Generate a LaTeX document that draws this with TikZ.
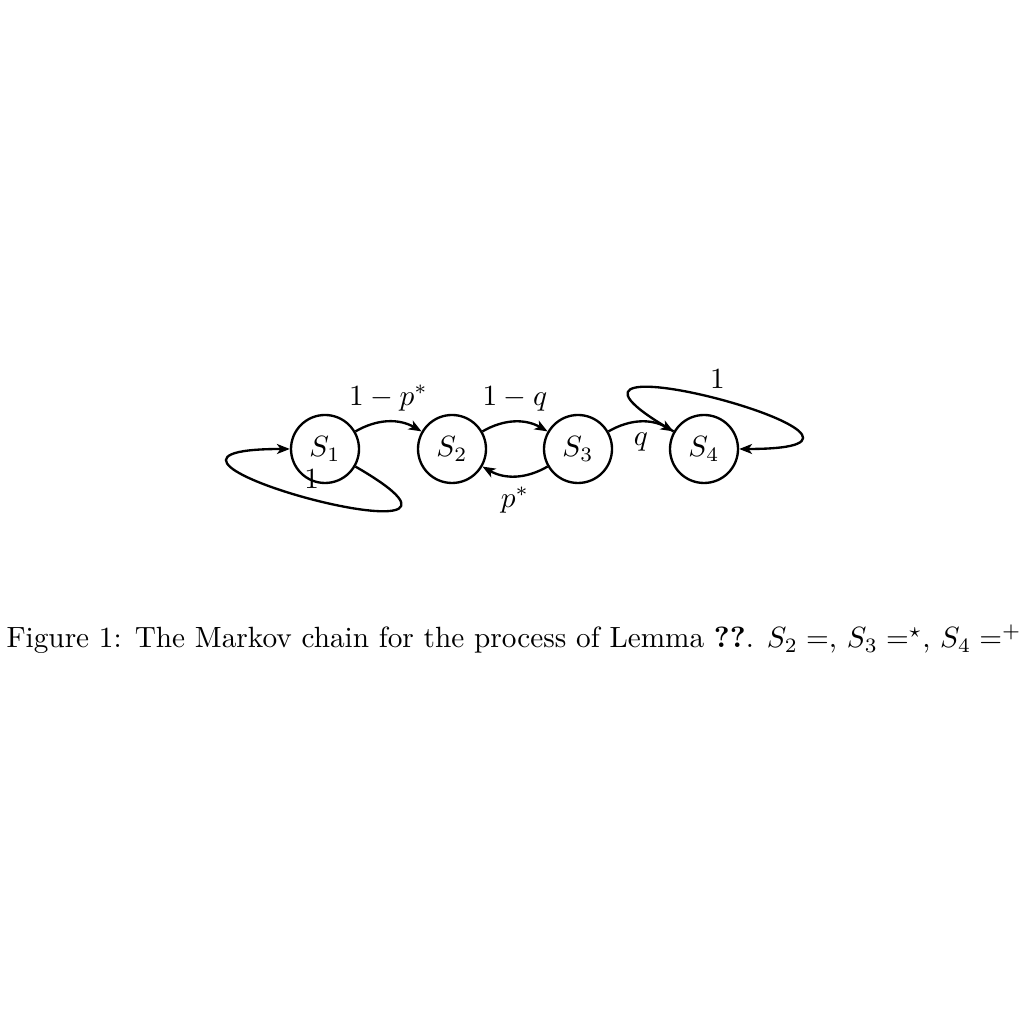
\documentclass[tikz,border=0pt]{standalone}
\usetikzlibrary{arrows.meta}
\newlength\capw
\newcommand\mycaptext{Figure 1: The Markov chain for the process of Lemma \textbf{??}. $S_2 =$, $S_3 =^{\star}$, $S_4 =^{+}$}
\begin{document}
\settowidth\capw{\mycaptext}%
\pgfmathsetlengthmacro\unitlen{\capw/1015}%
\begin{tikzpicture}[x=\unitlen, y=\unitlen,
  state/.style={circle, draw, thick, minimum size=68*\unitlen, inner sep=0pt},
  arr/.style={thick, -{Stealth[length=4.4pt,width=3.4pt,inset=1.2pt]}}]
\useasboundingbox (0,0) rectangle (1024,1024);
\node[state] (S1) at (325,575) {$S_1$};
\node[state] (S2) at (452,575) {$S_2$};
\node[state] (S3) at (578,575) {$S_3$};
\node[state] (S4) at (704,575) {$S_4$};
\draw[arr] (S1) to[bend left] node[above] {$1-p^*$} (S2);
\draw[arr] (S2) to[bend left] node[above] {$1-q$} (S3);
\draw[arr] (S3) to[bend left] node[below] {$p^*$} (S2);
\draw[arr] (S3) to[bend left] node[below] {$q$} (S4);
\draw[arr] (S1.-30) .. controls +(-30:220) and +(180:220) .. node[above] {$1$} (S1.180);
\draw[arr] (S4.150) .. controls +(150:220) and +(0:220) .. node[above] {$1$} (S4.0);
\node[anchor=base west, inner sep=0pt] (cap) at (6,376) {\mycaptext};
\end{tikzpicture}
\end{document}
